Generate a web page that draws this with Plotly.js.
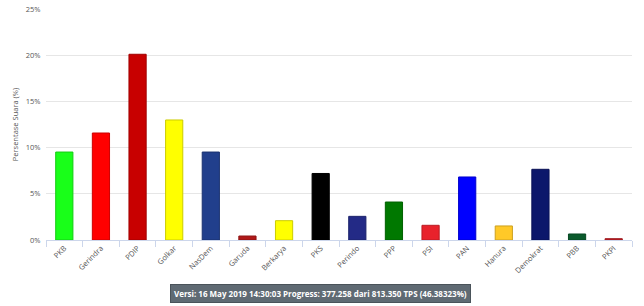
<!DOCTYPE html>
<html>
<head>
<meta charset="utf-8">
<script src="https://cdn.plot.ly/plotly-3.0.1.min.js"></script>
<style>html,body{margin:0;padding:0;background:#fff;}#chart{width:644px;height:306px;}</style>
</head>
<body>
<div id="chart"></div>
<script>
const parties = ["PKB","Gerindra","PDIP","Golkar","NasDem","Garuda","Berkarya","PKS","Perindo","PPP","PSI","PAN","Hanura","Demokrat","PBB","PKPI"];
const voteShare = [9.52, 11.58, 20.1, 12.99, 9.52, 0.43, 2.09, 7.2, 2.56, 4.11, 1.59, 6.82, 1.52, 7.65, 0.65, 0.14];
const barColors = ["#19ff19","#ff0000","#c80000","#ffff00","#213f8c","#b01818","#ffff00","#000000","#232a86","#007800","#e8222b","#0000ff","#ffc928","#0c176b","#0a5a2c","#c41e25"];
const lineColors = ["#14cc14","#cc0000","#a00000","#cccc00","#1a3270","#8d1313","#cccc00","#000000","#1c226b","#006000","#ba1b22","#0000cc","#cca120","#0a1256","#084823","#9d181e"];
const yTicks = [0,5,10,15,20,25];
const yTickLabels = ["0%","5%","10%","15%","20%","25%"];
const footerText = "Versi: 16 May 2019 14:30:03 Progress: 377.258 dari 813.350 TPS (46.38323%)";

const trace = {
  type: "bar",
  x: parties,
  y: voteShare,
  marker: {color: barColors, line: {color: lineColors, width: 1}},
  hoverinfo: "x+y"
};
const layout = {
  width: 644, height: 306,
  margin: {l: 46, r: 12, t: 9, b: 66},
  paper_bgcolor: "#fff", plot_bgcolor: "#fff",
  bargap: 0.53,
  showlegend: false,
  font: {family: "Open Sans, Lato, sans-serif", size: 7, color: "#666"},
  xaxis: {
    tickangle: -45,
    tickfont: {size: 7.5, color: "#555"},
    showgrid: false,
    showline: true, linecolor: "#ccd6eb", linewidth: 1,
    ticks: "outside", tickson: "boundaries", ticklen: 6, tickcolor: "#ccd6eb",
    fixedrange: true
  },
  yaxis: {
    range: [0, 25],
    tickvals: yTicks, ticktext: yTickLabels,
    tickfont: {size: 7.5, color: "#555"},
    ticks: "outside", ticklen: 3, tickcolor: "rgba(0,0,0,0)",
    gridcolor: "#e6e6e6", gridwidth: 1,
    zeroline: false, showline: false,
    title: {text: "Persentase Suara (%)", font: {size: 7.5, color: "#555"}, standoff: 6},
    fixedrange: true
  },
  annotations: [{
    xref: "paper", yref: "paper",
    x: (320 - 46) / 586, y: (240 - 293) / 231,
    xanchor: "center", yanchor: "middle",
    text: "<b>" + footerText + "</b>",
    showarrow: false,
    font: {family: "Open Sans, sans-serif", size: 8, color: "#ffffff"},
    bgcolor: "#5f6a73", bordercolor: "#4a535a", borderwidth: 1, borderpad: 3
  }]
};
Plotly.newPlot("chart", [trace], layout, {displayModeBar: false, staticPlot: true});
</script>
</body>
</html>
